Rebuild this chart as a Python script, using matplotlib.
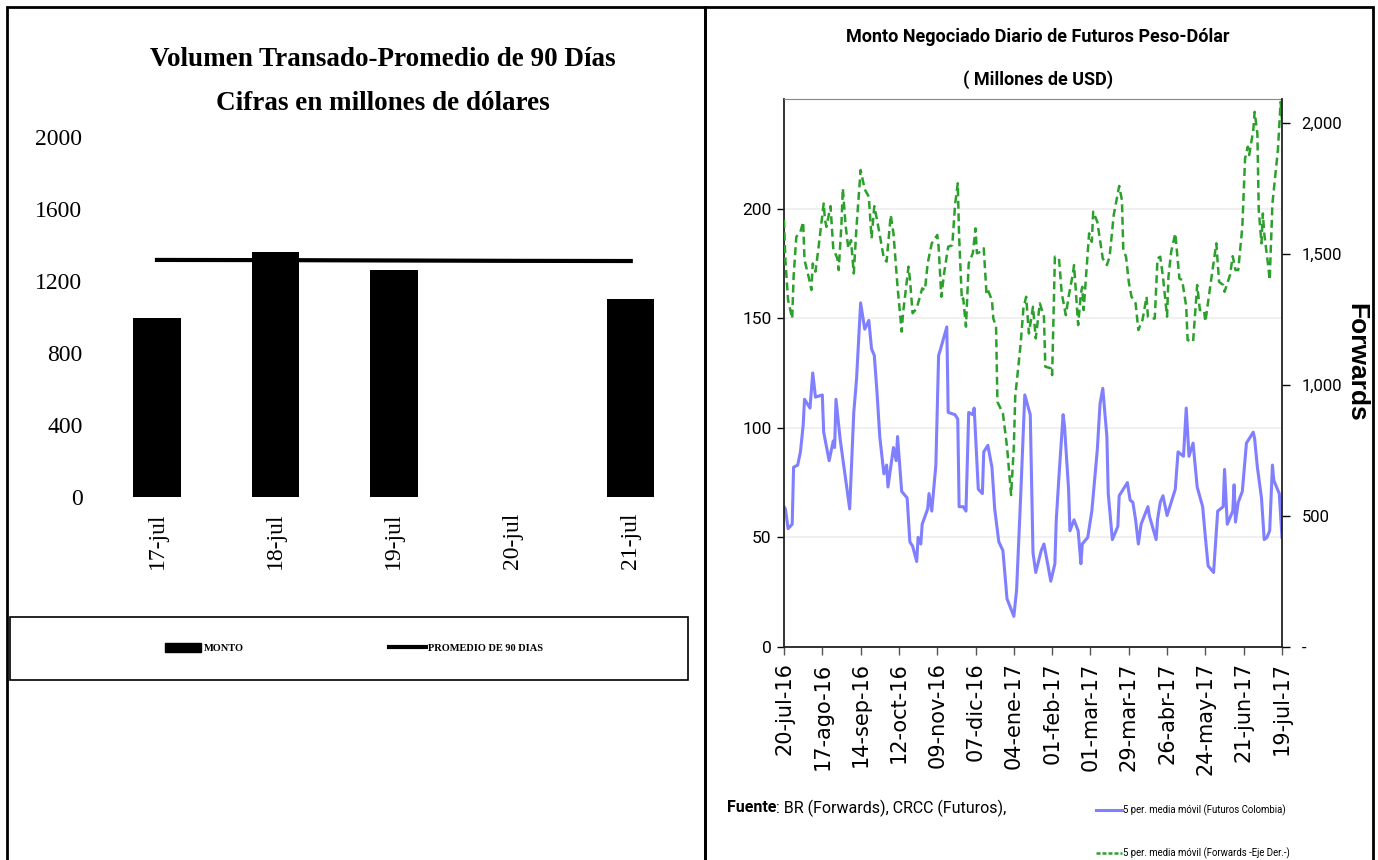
import pandas as pd
import matplotlib
matplotlib.use('Agg')
import matplotlib.pyplot as plt
from matplotlib.patches import Rectangle, Patch
from matplotlib.lines import Line2D
from matplotlib.ticker import FuncFormatter

# Panel izquierdo: volumen transado
dias_cat = ['17-jul', '18-jul', '19-jul', '20-jul', '21-jul']
monto = [995, 1360, 1260, 0, 1100]
promedio_90 = [1317, 1316, 1314, 1312, 1311]

# Panel derecho: medias moviles (dias desde 20-jul-16)
dias_fut = [0, 1, 3, 6, 7, 10, 12, 14, 15, 19,
            21, 23, 28, 29, 33, 36, 37, 38, 41, 48,
            51, 53, 56, 59, 62, 64, 66, 68, 70, 73,
            75, 76, 78, 80, 82, 83, 86, 90, 92, 94,
            97, 98, 100, 101, 105, 106, 108, 111, 113, 114,
            119, 120, 125, 127, 128, 131, 133, 135, 138, 139,
            142, 145, 146, 149, 152, 154, 157, 160, 163, 168,
            170, 173, 176, 180, 182, 184, 188, 190, 193, 195,
            198, 199, 201, 204, 205, 208, 209, 212, 215, 217,
            218, 222, 225, 227, 229, 231, 233, 236, 237, 240,
            244, 245, 251, 253, 255, 257, 259, 261, 266, 267,
            272, 273, 275, 277, 280, 284, 286, 288, 292, 294,
            296, 299, 302, 306, 308, 310, 314, 317, 321, 322,
            324, 328, 329, 330, 332, 335, 338, 343, 344, 346,
            349, 351, 353, 355, 357, 358, 362, 364]
futuros = [64, 63, 54, 56, 82, 83, 89, 101, 113, 109,
           125, 114, 115, 98, 85, 94, 91, 113, 95, 63,
           107, 122, 157, 145, 149, 136, 133, 116, 96, 79,
           83, 73, 82, 91, 85, 96, 71, 68, 48, 46,
           39, 50, 47, 56, 63, 70, 62, 83, 133, 135,
           146, 107, 106, 104, 64, 64, 62, 107, 106, 109,
           72, 70, 89, 92, 82, 63, 48, 44, 22, 14,
           26, 69, 115, 106, 43, 34, 44, 47, 37, 30,
           38, 58, 78, 106, 101, 72, 53, 58, 53, 38,
           47, 50, 62, 76, 90, 111, 118, 96, 70, 49,
           55, 69, 75, 67, 66, 58, 47, 56, 64, 60,
           49, 58, 66, 69, 60, 68, 72, 89, 87, 109,
           87, 93, 73, 64, 50, 37, 34, 62, 64, 81,
           56, 62, 74, 57, 66, 71, 93, 98, 95, 82,
           68, 49, 50, 53, 83, 76, 70, 50]

dias_fwd = [0, 1, 3, 6, 7, 9, 12, 14, 15, 18,
            20, 21, 23, 25, 29, 30, 31, 34, 36, 39,
            40, 42, 43, 45, 47, 49, 51, 53, 56, 59,
            62, 64, 66, 68, 70, 73, 75, 78, 80, 83,
            86, 87, 91, 92, 94, 97, 101, 103, 105, 108,
            112, 113, 115, 117, 120, 123, 125, 127, 128, 130,
            131, 133, 135, 138, 140, 141, 144, 146, 148, 149,
            152, 153, 155, 156, 160, 163, 166, 168, 169, 173,
            175, 177, 179, 182, 184, 187, 190, 191, 195, 196,
            198, 201, 203, 206, 208, 211, 212, 215, 217, 218,
            219, 223, 225, 226, 229, 233, 236, 238, 241, 245,
            247, 248, 250, 252, 254, 257, 259, 262, 265, 266,
            269, 271, 273, 275, 277, 280, 281, 283, 286, 289,
            291, 294, 295, 299, 302, 304, 307, 308, 312, 316,
            318, 321, 322, 326, 328, 330, 332, 335, 337, 339,
            340, 343, 344, 346, 347, 349, 350, 351, 354, 355,
            357, 359, 361, 363, 364]
forwards = [1630, 1477, 1324, 1254, 1413, 1566, 1585, 1623, 1477, 1413,
            1363, 1464, 1433, 1515, 1693, 1630, 1604, 1683, 1522, 1483,
            1439, 1617, 1751, 1611, 1522, 1553, 1426, 1604, 1821, 1747,
            1719, 1560, 1683, 1630, 1573, 1483, 1471, 1649, 1579, 1375,
            1204, 1274, 1452, 1407, 1274, 1293, 1369, 1362, 1464, 1541,
            1573, 1528, 1337, 1426, 1528, 1534, 1687, 1770, 1566, 1324,
            1331, 1223, 1464, 1503, 1598, 1503, 1509, 1522, 1350, 1363,
            1324, 1254, 1223, 936, 892, 765, 580, 765, 955, 1159,
            1293, 1337, 1197, 1299, 1178, 1312, 1261, 1070, 1064, 1038,
            1490, 1483, 1350, 1267, 1337, 1420, 1458, 1229, 1350, 1375,
            1286, 1579, 1547, 1662, 1623, 1483, 1458, 1490, 1649, 1760,
            1706, 1515, 1490, 1394, 1337, 1312, 1210, 1248, 1337, 1261,
            1254, 1254, 1483, 1490, 1413, 1261, 1413, 1509, 1579, 1407,
            1401, 1299, 1172, 1165, 1382, 1286, 1286, 1242, 1394, 1541,
            1394, 1382, 1356, 1420, 1492, 1439, 1439, 1604, 1865, 1910,
            1878, 1973, 2043, 1960, 1668, 1541, 1655, 1579, 1452, 1401,
            1693, 1795, 1897, 2081, 2011]

etiquetas_x = ['20-jul-16', '17-ago-16', '14-sep-16', '12-oct-16', '09-nov-16',
               '07-dic-16', '04-ene-17', '01-feb-17', '01-mar-17', '29-mar-17',
               '26-abr-17', '24-may-17', '21-jun-17', '19-jul-17']

inicio = pd.Timestamp('2016-07-20')
fechas_fut = inicio + pd.to_timedelta(dias_fut, unit='D')
fechas_fwd = inicio + pd.to_timedelta(dias_fwd, unit='D')
fechas_ticks = pd.date_range(inicio, periods=len(etiquetas_x), freq='28D')

W, H = 1378, 860
SERIF = ['Liberation Serif', 'DejaVu Serif']
NARROW = ['Roboto', 'DejaVu Sans']


def fx(px):
    return px / W


def fy(py):
    return 1 - py / H


fig = plt.figure(figsize=(W / 100, H / 100), dpi=100)

# marcos exteriores
fig.add_artist(Rectangle((fx(7), fy(880)), (705 - 7) / W, (880 - 7) / H,
                         transform=fig.transFigure, fill=False, ec='black', lw=2))
fig.add_artist(Rectangle((fx(705), fy(880)), (1373 - 705) / W, (880 - 7) / H,
                         transform=fig.transFigure, fill=False, ec='black', lw=2))

# ---------- panel izquierdo ----------
ax1 = fig.add_axes([fx(97.75), fy(497), (690 - 97.75) / W, (497 - 137) / H])
x = range(len(dias_cat))
ax1.bar(x, monto, width=0.4, color='black')
ax1.plot(x, promedio_90, color='black', lw=3)
ax1.set_xlim(-0.5, 4.5)
ax1.set_ylim(0, 2000)
ax1.set_yticks([0, 400, 800, 1200, 1600, 2000])
ax1.set_xticks(list(x))
ax1.set_xticklabels(dias_cat, rotation=90)
for s in ax1.spines.values():
    s.set_visible(False)
ax1.tick_params(axis='both', length=0, labelsize=17)
ax1.tick_params(axis='y', pad=11)
ax1.tick_params(axis='x', pad=11)
for lab in ax1.get_xticklabels() + ax1.get_yticklabels():
    lab.set_family(SERIF)

fig.text(fx(383), fy(60), 'Volumen Transado-Promedio de 90 Días', ha='center', va='center',
         family=SERIF, weight='bold', size=19.5)
fig.text(fx(383), fy(103), 'Cifras en millones de dólares', ha='center', va='center',
         family=SERIF, weight='bold', size=19.5)

fig.add_artist(Rectangle((fx(10), fy(680)), (688 - 10) / W, (680 - 617) / H,
                         transform=fig.transFigure, fill=False, ec='black', lw=1.2))
fig.legend([Patch(color='black'), Line2D([], [], color='black', lw=3)],
           ['MONTO', 'PROMEDIO DE 90 DIAS'], loc='center',
           bbox_to_anchor=(fx(354), fy(648)), ncol=2, frameon=False,
           prop=dict(family=SERIF, weight='bold', size=7.5),
           handlelength=3.5, handleheight=1.0, handletextpad=0.2, columnspacing=14)

# ---------- panel derecho ----------
azul = '#7f7fff'
verde = '#2ca02c'
ax2 = fig.add_axes([fx(784), fy(647), 498 / W, 548 / H])
ax3 = ax2.twinx()

ax2.plot(fechas_fut, futuros, color=azul, lw=2.2)
ax3.plot(fechas_fwd, forwards, color=verde, lw=1.8, linestyle=(0, (3.2, 1.8)))

ax2.set_xlim(fechas_ticks[0], fechas_ticks[-1])
ax2.set_ylim(0, 250)
ax3.set_ylim(0, 2092)
ax2.set_yticks([0, 50, 100, 150, 200])
ax3.set_yticks([0, 500, 1000, 1500, 2000])
ax3.yaxis.set_major_formatter(FuncFormatter(lambda v, p: '-' if v == 0 else f'{v:,.0f}'))
ax2.set_xticks(fechas_ticks)
ax2.set_xticklabels(etiquetas_x, rotation=90, family='DejaVu Sans', size=15)

ax2.yaxis.grid(True, color='#eeeeee', lw=1.2)
ax2.set_axisbelow(True)
for sp in ['left', 'bottom']:
    ax2.spines[sp].set_color('#222222')
    ax2.spines[sp].set_linewidth(1.3)
ax2.spines['top'].set_color('#888888')
ax2.spines['top'].set_linewidth(0.8)
ax2.spines['right'].set_visible(False)
ax3.spines['right'].set_color('#222222')
ax3.spines['right'].set_linewidth(1.3)
for sp in ['left', 'bottom', 'top']:
    ax3.spines[sp].set_visible(False)

ax2.tick_params(axis='x', length=6, width=1, color='#555555', pad=5)
ax2.tick_params(axis='y', length=5, width=1, pad=4, labelsize=12.5)
ax3.tick_params(axis='y', length=6, width=1, pad=8, labelsize=12)
for lab in ax2.get_yticklabels() + ax3.get_yticklabels():
    lab.set_family(NARROW)

fig.text(fx(1356), fy(362), 'Forwards', rotation=270, ha='center', va='center',
         family=['Liberation Sans', 'DejaVu Sans'], weight='bold', size=19)

fig.text(fx(1038), fy(37), 'Monto Negociado Diario de Futuros Peso-Dólar', ha='center',
         va='center', family=NARROW, weight='bold', size=13)
fig.text(fx(1038), fy(80), '( Millones de USD)', ha='center', va='center',
         family=NARROW, weight='bold', size=13)

t = fig.text(fx(727), fy(808), 'Fuente', family=NARROW, weight='bold', size=11.5, va='center')
ax2.annotate(': BR (Forwards), CRCC (Futuros),', xy=(1, 0.5), xycoords=t, va='center',
             family=NARROW, size=11.5, annotation_clip=False)

fig.legend([Line2D([], [], color=azul, lw=2.2),
            Line2D([], [], color=verde, lw=1.8, linestyle=(0, (1.6, 0.8)))],
           ['5 per. media móvil (Futuros Colombia)', '5 per. media móvil (Forwards -Eje Der.-)'],
           loc='upper left', bbox_to_anchor=(fx(1096), fy(804)), frameon=False,
           prop=dict(family=NARROW, size=6.9), handlelength=2.7, handletextpad=0.1,
           labelspacing=3.3, borderpad=0, borderaxespad=0)

fig.savefig('out.png', dpi=100)
